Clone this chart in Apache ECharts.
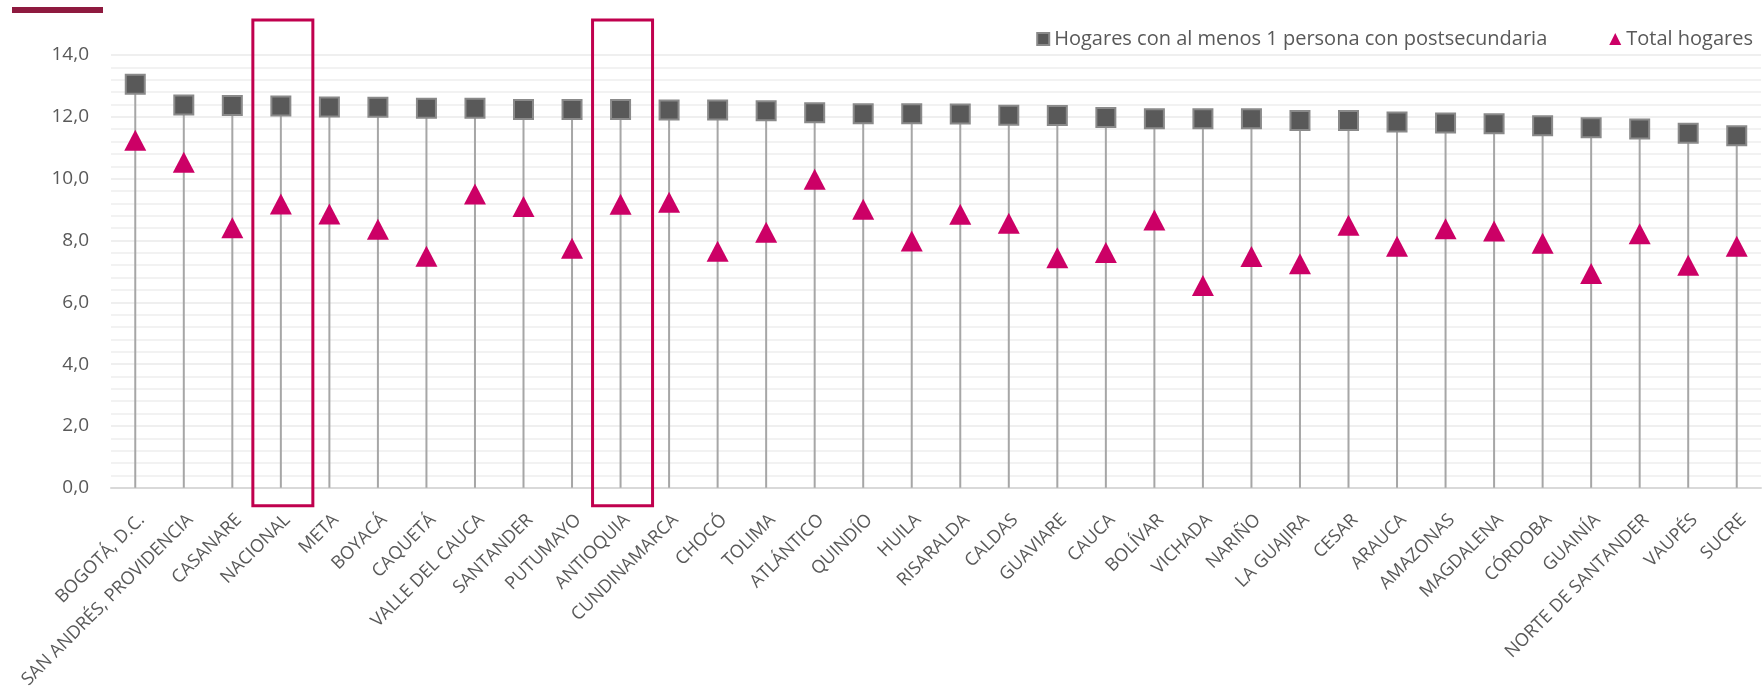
<!DOCTYPE html>
<html>
<head>
<meta charset="utf-8">
<script src="https://cdn.jsdelivr.net/npm/echarts@6/dist/echarts.min.js"></script>
<style>
html,body{margin:0;padding:0;background:#fff;}
#chart{width:1762px;height:691px;}
</style>
</head>
<body>
<div id="chart"></div>
<script>
const categories = ["BOGOTÁ, D.C.","SAN ANDRÉS, PROVIDENCIA","CASANARE","NACIONAL","META","BOYACÁ","CAQUETÁ","VALLE DEL CAUCA","SANTANDER","PUTUMAYO","ANTIOQUIA","CUNDINAMARCA","CHOCÓ","TOLIMA","ATLÁNTICO","QUINDÍO","HUILA","RISARALDA","CALDAS","GUAVIARE","CAUCA","BOLÍVAR","VICHADA","NARIÑO","LA GUAJIRA","CESAR","ARAUCA","AMAZONAS","MAGDALENA","CÓRDOBA","GUAINÍA","NORTE DE SANTANDER","VAUPÉS","SUCRE"];
const postsecundaria = [13.05,12.38,12.37,12.35,12.32,12.31,12.28,12.28,12.24,12.24,12.24,12.22,12.22,12.20,12.13,12.10,12.10,12.09,12.05,12.04,11.98,11.94,11.94,11.94,11.88,11.88,11.83,11.80,11.78,11.71,11.65,11.61,11.47,11.39];
const totalHogares = [11.24,10.53,8.41,9.18,8.86,8.36,7.49,9.50,9.10,7.75,9.17,9.24,7.65,8.27,9.98,9.01,7.98,8.85,8.56,7.44,7.61,8.66,6.54,7.48,7.25,8.49,7.81,8.38,8.31,7.91,6.93,8.22,7.20,7.81];
const yTicks = [0,2,4,6,8,10,12,14];
const highlighted = ["NACIONAL","ANTIOQUIA"];
const seriesNames = ["Hogares con al menos 1 persona con postsecundaria","Total hogares"];

const FONT = "'Open Sans', 'Noto Sans', sans-serif";
const chart = echarts.init(document.getElementById('chart'), null, {renderer:'canvas'});
const option = {
  backgroundColor:'#ffffff',
  animation:false,
  textStyle:{fontFamily:FONT},
  grid:{left:111,right:1,top:55,bottom:203,containLabel:false},
  legend:{
    data:[{name:seriesNames[0],icon:'rect'},{name:seriesNames[1],icon:'triangle'}],
    right:4, top:24, itemWidth:12, itemHeight:12, itemGap:62,
    textStyle:{fontFamily:FONT,fontSize:20,color:'#595959'}
  },
  xAxis:{
    type:'category', data:categories,
    axisLine:{lineStyle:{color:'#d9d9d9',width:2}},
    axisTick:{show:false},
    axisLabel:{rotate:45,fontSize:18,color:'#595959',margin:23,interval:0,fontFamily:FONT,verticalAlign:'top'},
    splitLine:{show:false}
  },
  yAxis:{
    type:'value', min:yTicks[0], max:yTicks[yTicks.length-1], interval:2,
    axisLine:{show:false}, axisTick:{show:false},
    axisLabel:{fontSize:19,color:'#595959',margin:22,fontFamily:FONT,
      formatter:function(v){return v.toFixed(1).replace('.',',');}},
    splitLine:{lineStyle:{color:'#efefef',width:2}},
    minorTick:{show:false,splitNumber:5},
    minorSplitLine:{show:true,lineStyle:{color:'#f2f2f2',width:2}}
  },
  series:[
    {name:'stems',type:'bar',data:postsecundaria,barWidth:2,itemStyle:{color:'#a6a6a6'},z:1,silent:true},
    {name:seriesNames[0],type:'scatter',data:postsecundaria,symbol:'rect',symbolSize:19,
      itemStyle:{color:'#595959',borderColor:'#8a8a8a',borderWidth:2,opacity:1},z:3},
    {name:seriesNames[1],type:'scatter',data:totalHogares,symbol:'triangle',symbolSize:[22,21],
      itemStyle:{color:'#CC0066',opacity:1},z:4}
  ]
};
chart.setOption(option);

const y0 = chart.convertToPixel({yAxisIndex:0},0);
const gfx = [{type:'rect',shape:{x:12,y:7,width:91,height:6},style:{fill:'#8E1A3F'},z:10}];
highlighted.forEach(function(c){
  const cx = chart.convertToPixel({xAxisIndex:0},c);
  gfx.push({type:'rect',shape:{x:cx-28,y:20,width:60,height:(y0+18)-20},
    style:{fill:'none',stroke:'#C0004E',lineWidth:3},z:10});
});
chart.setOption({graphic:gfx});
</script>
</body>
</html>
